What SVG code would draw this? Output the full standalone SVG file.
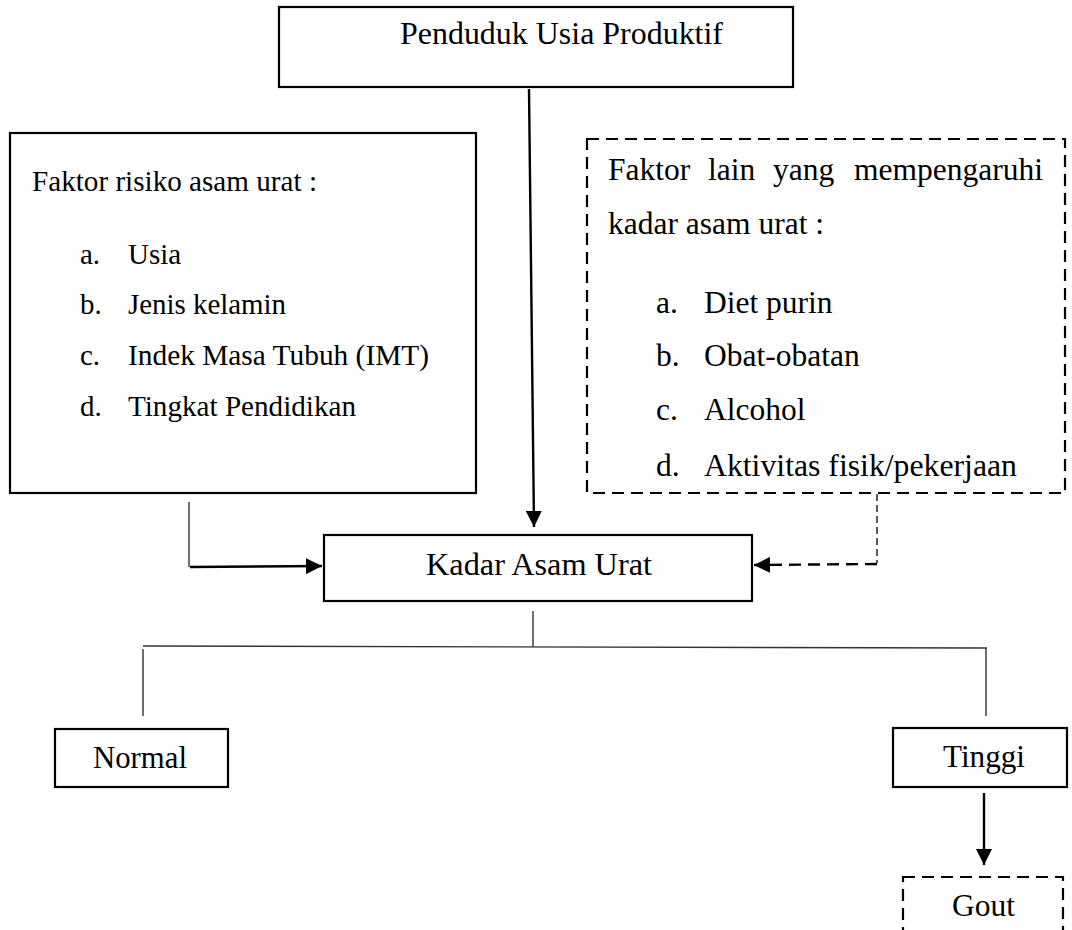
<svg xmlns="http://www.w3.org/2000/svg" width="1072" height="930" viewBox="0 0 1072 930">
<style>
text{font-family:"Liberation Serif","Times New Roman",serif;fill:#000}
.box{fill:#fff;stroke:#000;stroke-width:2.2}
.dbox{fill:#fff;stroke:#000;stroke-width:2.2;stroke-dasharray:12 7}
.thin{stroke:#333;stroke-width:1.4;fill:none}
.arr{stroke:#000;stroke-width:2.4;fill:none}
.darr{stroke:#000;stroke-width:2.4;fill:none;stroke-dasharray:12 7}
.dthin{stroke:#000;stroke-width:1.3;fill:none;stroke-dasharray:7 4}
.l{font-size:29px}
.r{font-size:31.5px}
.m{font-size:31.5px}
.s{font-size:31px}
</style>
<defs>
<marker id="ah" viewBox="0 0 16 16" refX="16" refY="8" markerWidth="16" markerHeight="16" markerUnits="userSpaceOnUse" orient="auto">
<path d="M0,0 L16,8 L0,16 Z" fill="#000"/>
</marker>
</defs>

<g id="connectors">
<line class="arr" x1="529" y1="89" x2="534" y2="527" marker-end="url(#ah)"/>
<line class="thin" x1="189" y1="502" x2="189" y2="567"/>
<line class="arr" x1="190" y1="567" x2="322" y2="566" marker-end="url(#ah)"/>
<polyline class="dthin" points="877,494 877,563"/>
<line class="darr" x1="877" y1="564" x2="754" y2="565" marker-end="url(#ah)"/>
<line class="thin" x1="533" y1="611" x2="533" y2="647"/>
<line class="thin" x1="143" y1="646" x2="987" y2="648"/>
<line class="thin" x1="143" y1="649" x2="143" y2="716"/>
<line class="thin" x1="986" y1="648" x2="986" y2="716"/>
<line class="arr" x1="984" y1="793" x2="984" y2="865" marker-end="url(#ah)"/>
</g>

<g id="node-penduduk">
<rect class="box" x="279" y="7" width="514" height="80"/>
<text class="m" x="400" y="44" textLength="323" lengthAdjust="spacingAndGlyphs">Penduduk Usia Produktif</text>
</g>

<g id="node-faktor-risiko">
<rect class="box" x="10" y="133" width="466" height="360"/>
<text class="l" x="32" y="191" textLength="285" lengthAdjust="spacingAndGlyphs">Faktor risiko asam urat :</text>
<text class="l" x="80" y="264">a.</text><text class="l" x="128" y="264">Usia</text>
<text class="l" x="80" y="314">b.</text><text class="l" x="128" y="314" textLength="158" lengthAdjust="spacingAndGlyphs">Jenis kelamin</text>
<text class="l" x="80" y="365">c.</text><text class="l" x="128" y="365" textLength="301" lengthAdjust="spacingAndGlyphs">Indek Masa Tubuh (IMT)</text>
<text class="l" x="80" y="416">d.</text><text class="l" x="128" y="416" textLength="228" lengthAdjust="spacingAndGlyphs">Tingkat Pendidikan</text>
</g>

<g id="node-faktor-lain">
<rect class="dbox" x="587" y="139" width="478" height="354"/>
<text class="r" x="608" y="180">Faktor</text>
<text class="r" x="708" y="180">lain</text>
<text class="r" x="773" y="180">yang</text>
<text class="r" x="1043" y="180" text-anchor="end">mempengaruhi</text>
<text class="r" x="608" y="234">kadar asam urat :</text>
<text class="r" x="656" y="313">a.</text><text class="r" x="704" y="313">Diet purin</text>
<text class="r" x="656" y="366">b.</text><text class="r" x="704" y="366">Obat-obatan</text>
<text class="r" x="656" y="420">c.</text><text class="r" x="704" y="420">Alcohol</text>
<text class="r" x="656" y="476">d.</text><text class="r" x="704" y="476" textLength="313" lengthAdjust="spacingAndGlyphs">Aktivitas fisik/pekerjaan</text>
</g>

<g id="node-kadar">
<rect class="box" x="324" y="535" width="428" height="66"/>
<text class="m" x="426" y="575" textLength="226" lengthAdjust="spacingAndGlyphs">Kadar Asam Urat</text>
</g>

<g id="node-normal">
<rect class="box" x="55" y="729" width="173" height="58"/>
<text class="s" x="93" y="768" textLength="94" lengthAdjust="spacingAndGlyphs">Normal</text>
</g>

<g id="node-tinggi">
<rect class="box" x="893" y="728" width="174" height="59"/>
<text class="s" x="943" y="767" textLength="82" lengthAdjust="spacingAndGlyphs">Tinggi</text>
</g>

<g id="node-gout">
<rect class="dbox" x="903" y="877" width="160" height="80"/>
<text class="s" x="952" y="916" textLength="63" lengthAdjust="spacingAndGlyphs">Gout</text>
</g>
</svg>
